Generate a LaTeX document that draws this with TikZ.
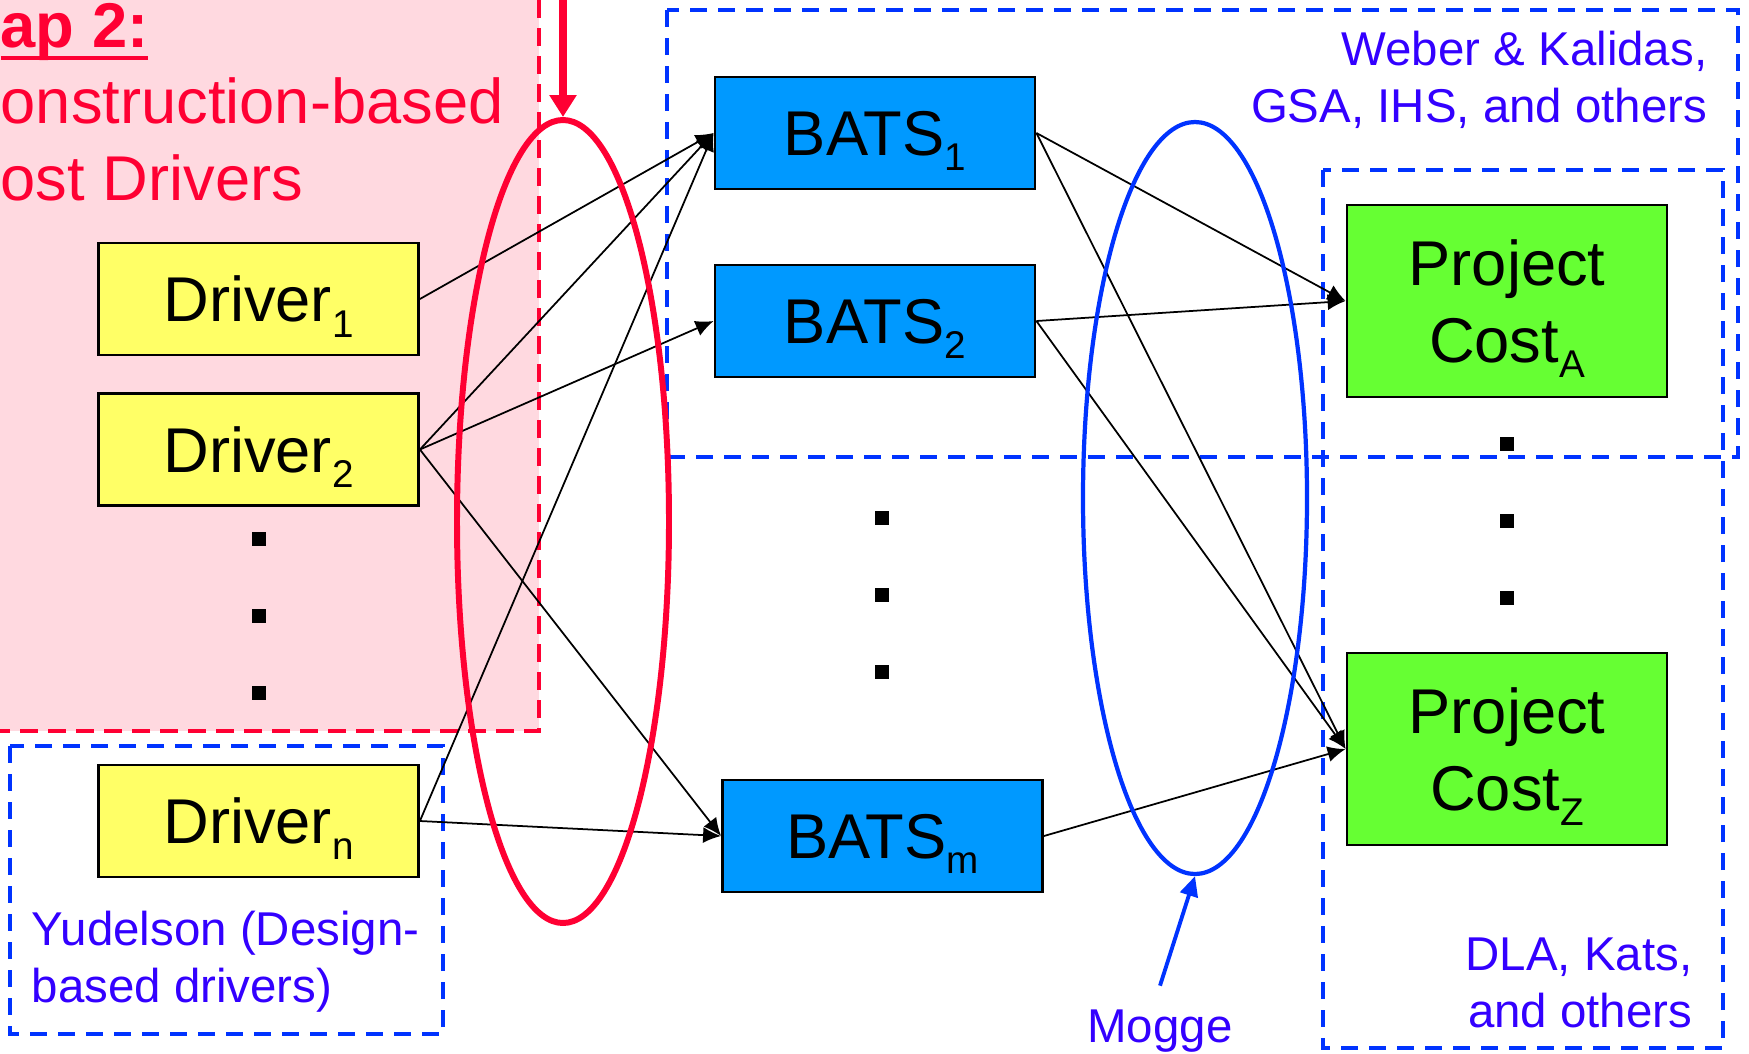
\documentclass[tikz,border=0pt]{standalone}
\usepackage{fontspec}
\setmainfont{Liberation Sans}
\usepackage{tikz}
\usetikzlibrary{arrows.meta, shapes.geometric}

\definecolor{gapred}{HTML}{FF0033}
\definecolor{gappink}{HTML}{FFD9E0}
\definecolor{refblue}{HTML}{0033FF}
\definecolor{notecolor}{HTML}{3300FF}
\definecolor{batsblue}{HTML}{0099FF}
\definecolor{costgreen}{HTML}{66FF33}
\definecolor{driveryellow}{HTML}{FFFF66}

\newcommand{\idx}[1]{\raisebox{-4.3pt}{\fontsize{11}{12}\selectfont #1}}
\newcommand{\thickul}[1]{\setbox0\hbox{#1}\rlap{\rule[-3.6pt]{\wd0}{1.1pt}}\box0}

\begin{document}
\begin{tikzpicture}[
  itembox/.style  = {draw, line width=0.8pt, minimum width=3.2cm, minimum height=1.12cm,
                     inner sep=0pt, text depth=0pt, align=center, font=\fontsize{18}{21.8}\selectfont},
  drvbox/.style   = {itembox, fill=driveryellow},
  batsbox/.style  = {itembox, fill=batsblue},
  costbox/.style  = {itembox, fill=costgreen, minimum height=1.92cm},
  dashbox/.style  = {draw=refblue, line width=1.2pt, dash pattern=on 1.7mm off 1.1mm},
  notelabel/.style = {text=notecolor, inner sep=0pt, font=\fontsize{13.5}{16.2}\selectfont},
  ringshape/.style = {draw, ellipse, inner sep=0pt},
  dotmark/.style  = {fill=black, minimum size=0.135cm, inner sep=0pt},
  link/.style     = {line width=0.5pt, -{Latex[length=1.8mm, width=1.6mm]}}
]
  \useasboundingbox (0,0) rectangle (17.49,-10.53);

  % Gap 2 area
  \fill[gappink] (0,0) rectangle (5.39,-7.31);
  \draw[gapred, line width=1.2pt, dash pattern=on 1.8mm off 1mm] (5.39,0) -- (5.39,-7.31) -- (0,-7.31);
  \node[text=gapred, align=left, anchor=base west, inner sep=0pt, font=\fontsize{18}{21.7}\selectfont]
    (gaptitle) at (0,-2.00) {\textbf{\thickul{ap 2:}}\\onstruction-based\\ost Drivers};

  % grouping boxes
  \draw[dashbox] (6.67,-0.10) rectangle (17.38,-4.57);
  \draw[dashbox] (13.23,-1.70) rectangle (17.23,-10.48);
  \draw[dashbox] (0.10,-7.46) rectangle (4.43,-10.34);

  % drivers
  \node[drvbox] (driver1) at (2.585,-2.99) {Driver\idx{1}};
  \node[drvbox] (driver2) at (2.585,-4.495) {Driver\idx{2}};
  \node[drvbox] (drivern) at (2.585,-8.21) {Driver\idx{n}};

  % BATS
  \node[batsbox] (bats1) at (8.75,-1.33) {BATS\idx{1}};
  \node[batsbox] (bats2) at (8.75,-3.21) {BATS\idx{2}};
  \node[batsbox] (batsm) at (8.825,-8.36) {BATS\idx{m}};

  % project costs
  \node[costbox] (costa) at (15.07,-3.01) {Project\\Cost\idx{A}};
  \node[costbox] (costz) at (15.07,-7.49) {Project\\Cost\idx{Z}};

  % vertical dots
  \foreach \y [count=\i] in {-5.39,-6.16,-6.93}
    \node[dotmark] (ldot\i) at (2.588,\y) {};
  \foreach \y [count=\i] in {-5.18,-5.95,-6.72}
    \node[dotmark] (mdot\i) at (8.82,\y) {};
  \foreach \y [count=\i] in {-4.44,-5.21,-5.98}
    \node[dotmark] (rdot\i) at (15.07,\y) {};

  % links
  \foreach \src/\dst in {driver1/bats1, driver2/bats1, driver2/bats2, driver2/batsm,
                         drivern/bats1, drivern/batsm,
                         bats1/costa, bats1/costz, bats2/costa, bats2/costz, batsm/costz}
    \draw[link] (\src.east) -- (\dst.west);

  % notes
  \node[notelabel, align=right, anchor=base east] (weber) at (17.08,-1.22) {Weber \& Kalidas,\\GSA, IHS, and others};
  \node[notelabel, align=left, anchor=base west] (yudelson) at (0.31,-10.02) {Yudelson (Design-\\based drivers)};
  \node[notelabel, align=right, anchor=base east] (dla) at (16.93,-10.27) {DLA, Kats,\\and others};
  \node[notelabel, anchor=base, inner ysep=2.3mm] (mogge) at (11.60,-10.42) {Mogge};

  % rings
  \node[ringshape, draw=gapred, line width=1.7pt, minimum width=2.12cm, minimum height=8.03cm]
    (gapring) at (5.63,-5.215) {};
  \node[ringshape, draw=refblue, line width=1.2pt, minimum width=2.24cm, minimum height=7.52cm]
    (moggering) at (11.95,-4.98) {};

  % pointers
  \coordinate (gaptop) at (5.63,0);
  \draw[gapred, line width=2.3pt, -{Triangle[length=2.2mm, width=2.6mm]}] (gaptop) -- (gapring.north);
  \draw[refblue, line width=1.1pt, -{Triangle[length=2mm, width=1.8mm]}] (mogge.north) -- (moggering.south);
\end{tikzpicture}
\end{document}
